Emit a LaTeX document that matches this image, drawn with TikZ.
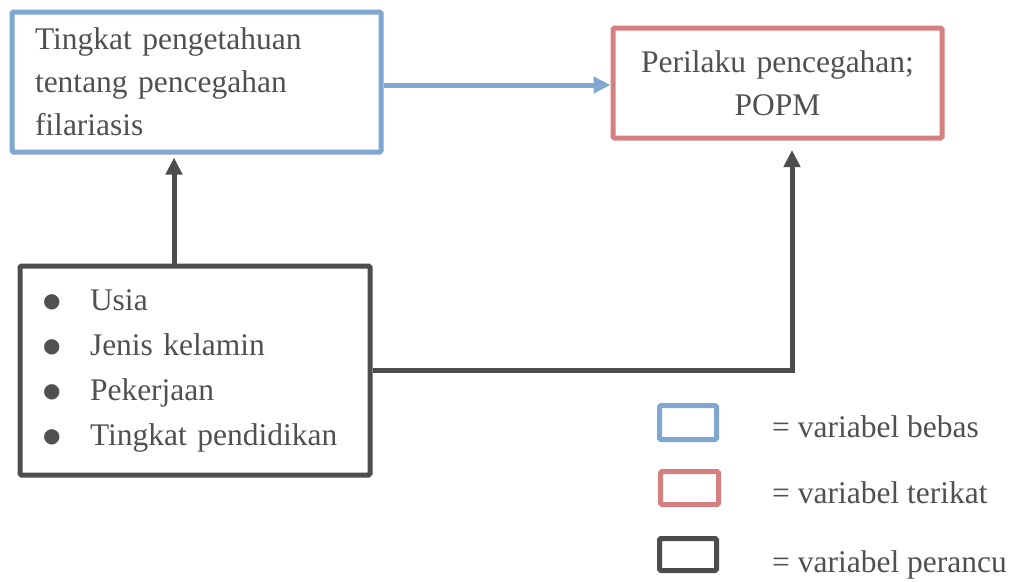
\documentclass[tikz,border=0pt]{standalone}
\usepackage{fontspec}
\setmainfont{Liberation Serif}
\newfontfamily\dotfont{DejaVu Sans}
\usetikzlibrary{arrows.meta}
\definecolor{varblue}{RGB}{127,167,208}
\definecolor{varred}{RGB}{213,128,128}
\definecolor{vardark}{RGB}{77,77,77}
\definecolor{txtgray}{RGB}{80,80,80}
\newcommand{\itemdot}{\makebox[47pt][l]{\raisebox{3pt}{\dotfont\fontsize{20}{20}\selectfont ●}}}

\begin{document}
\begin{tikzpicture}[x=1pt,y=-1pt,
    every node/.style={font=\fontsize{31.5}{43}\selectfont, text=txtgray, inner sep=0pt},
    varbox/.style={draw=#1, line width=5pt, rectangle, rounded corners=1.5pt},
    link/.style={draw=#1, line width=5pt, -{Triangle[length=17pt,width=16pt]}}]
        \useasboundingbox (0,0) rectangle (1019,581);
        % variabel bebas, terikat, perancu
        \node[varbox=varblue, minimum width=369pt, minimum height=140pt, text width=323pt, align=left] (know) at (196.5,82) {Tingkat pengetahuan\\tentang pencegahan\\filariasis};
        \node[varbox=varred, minimum width=329pt, minimum height=110pt, text width=300pt, align=center] (behav) at (777.5,83) {Perilaku pencegahan;\\POPM};
        \node[varbox=vardark, minimum width=350pt, minimum height=209pt, text width=304pt, align=left, font=\fontsize{31.5}{45}\selectfont] (conf) at (195,370.5) {\itemdot Usia\\\itemdot Jenis kelamin\\\itemdot Pekerjaan\\\itemdot Tingkat pendidikan};
        \coordinate (up) at (174,0);
        \coordinate (rx) at (792,0);
        \draw[link=varblue] ([yshift=-3pt]know.east) -- ([yshift=-3pt]know.east -| behav.west);
        \draw[link=vardark, shorten >=3pt] (up |- conf.north) -- (up |- know.south);
        \draw[link=vardark, shorten >=9.5pt] (conf.east) -| (rx |- behav.south);
        % keterangan
        \node[varbox=varblue, minimum width=57pt, minimum height=34pt] (keyb) at (688,422.5) {};
        \node[varbox=varred, minimum width=58pt, minimum height=33pt] (keyr) at (689.5,488) {};
        \node[varbox=vardark, minimum width=57pt, minimum height=32pt] (keyd) at (688,554.5) {};
        \node[anchor=west] (txtb) at (772,427) {= variabel bebas};
        \node[anchor=west] (txtr) at (772,493) {= variabel terikat};
        \node[anchor=west] (txtd) at (772,565) {= variabel perancu};
      \end{tikzpicture}
\end{document}
